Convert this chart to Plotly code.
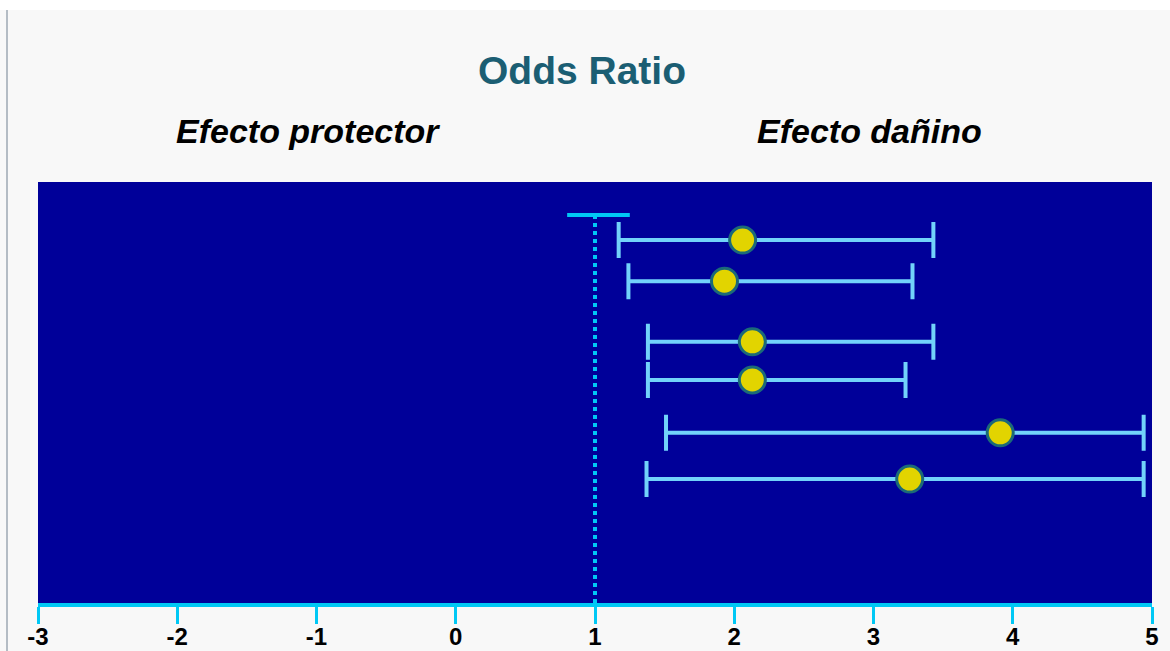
import plotly.graph_objects as go

# ---- data ----
odds_ratio = [2.06, 1.93, 2.13, 2.13, 3.91, 3.26]
ci_low = [1.17, 1.24, 1.38, 1.38, 1.51, 1.37]
ci_high = [3.43, 3.28, 3.43, 3.23, 4.94, 4.94]
row_pos = [1.57, 2.68, 4.32, 5.35, 6.78, 8.03]
x_ticks = [-3, -2, -1, 0, 1, 2, 3, 4, 5]
null_value = 1
null_top = 0.89
null_bar = [0.80, 1.25]

title_text = "Odds Ratio"
left_label = "Efecto protector"
right_label = "Efecto dañino"

W, H = 1170, 651
L, R, T, B = 38, 18, 182, 48

err_plus = [h - o for h, o in zip(ci_high, odds_ratio)]
err_minus = [o - l for o, l in zip(odds_ratio, ci_low)]

CYAN = "#00c8f5"
fig = go.Figure()

fig.add_trace(go.Scatter(
    x=odds_ratio, y=row_pos, mode="markers",
    marker=dict(size=26, color="#e2d400", line=dict(color="#1b6a78", width=3)),
    error_x=dict(type="data", symmetric=False, array=err_plus, arrayminus=err_minus,
                 color="#72d2fa", thickness=4, width=18),
    showlegend=False, hoverinfo="x",
))

# null line at OR = 1
fig.add_shape(type="line", xref="x", yref="y", x0=null_value, x1=null_value,
              y0=null_top, y1=11.38, line=dict(color=CYAN, width=4, dash="4px,4px"))
fig.add_shape(type="line", xref="x", yref="y", x0=null_bar[0], x1=null_bar[1],
              y0=null_top, y1=null_top, line=dict(color=CYAN, width=4))

# page decorations
fig.add_shape(type="rect", xref="paper", yref="paper", x0=-0.1, x1=1.1,
              y0=(H - B - 10) / (H - T - B), y1=1.6, fillcolor="white",
              line=dict(width=0), layer="below")
fig.add_shape(type="line", xref="paper", yref="paper",
              x0=(7 - L) / (W - L - R), x1=(7 - L) / (W - L - R),
              y0=-0.2, y1=(H - B - 10) / (H - T - B),
              line=dict(color="#b4bcc4", width=2))

fig.add_annotation(text=f"<b>{title_text}</b>", xref="paper", yref="paper",
                   x=(582 - L) / (W - L - R), y=(H - B - 70) / (H - T - B),
                   showarrow=False, xanchor="center", yanchor="middle",
                   font=dict(family="Liberation Sans", size=39, color="#1b5e73"))
fig.add_annotation(text=f"<b><i>{left_label}</i></b>", xref="paper", yref="paper",
                   x=(308 - L) / (W - L - R), y=(H - B - 131) / (H - T - B),
                   showarrow=False, xanchor="center", yanchor="middle",
                   font=dict(family="Liberation Sans", size=34, color="black"))
fig.add_annotation(text=f"<b><i>{right_label}</i></b>", xref="paper", yref="paper",
                   x=(869 - L) / (W - L - R), y=(H - B - 131) / (H - T - B),
                   showarrow=False, xanchor="center", yanchor="middle",
                   font=dict(family="Liberation Sans", size=34, color="black"))

fig.update_layout(
    width=W, height=H,
    margin=dict(l=L, r=R, t=T, b=B, autoexpand=False),
    paper_bgcolor="#f8f8f8",
    plot_bgcolor="#000099",
    xaxis=dict(range=[-3, 5], tickvals=x_ticks,
               ticktext=[f"<b>{v}</b>" for v in x_ticks],
               showgrid=False, zeroline=False, showline=True, linecolor=CYAN, linewidth=4,
               ticks="outside", ticklen=17, tickwidth=3, tickcolor=CYAN,
               ticklabelstandoff=-8,
               tickfont=dict(family="Liberation Sans", size=24, color="black"),
               automargin=False, fixedrange=True),
    yaxis=dict(range=[11.38, 0], visible=False, showgrid=False, zeroline=False,
               automargin=False, fixedrange=True),
)

fig.write_html("out.html", config={"displayModeBar": False},
               post_script="document.body.style.margin='0';document.body.style.padding='0';document.body.style.overflow='hidden';")
